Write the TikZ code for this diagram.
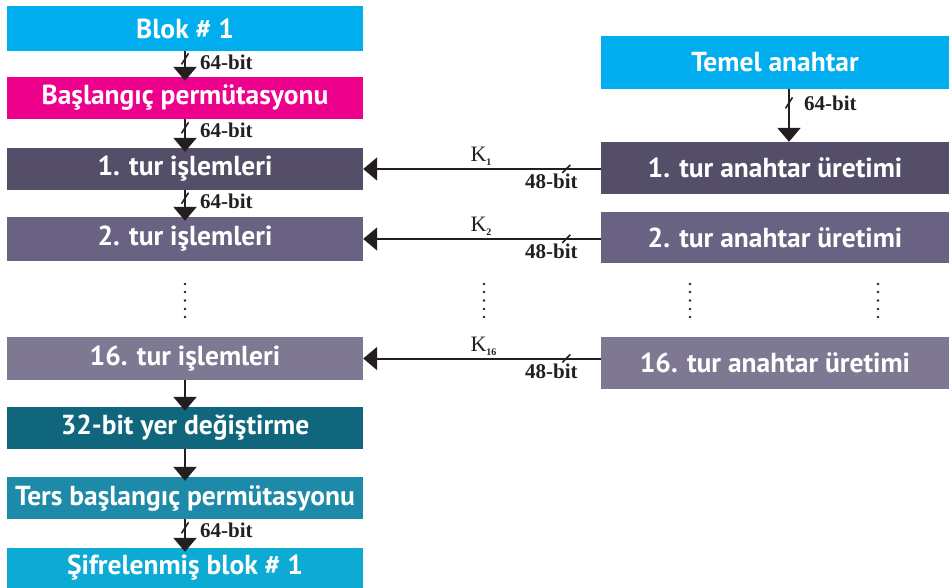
\documentclass[tikz,border=0pt]{standalone}
\usepackage{fontspec}
\setmainfont{Liberation Serif}
\newfontfamily\boxfont{PT Sans}
\usetikzlibrary{arrows.meta,calc}

\definecolor{cyanA}{HTML}{00AEEF}
\definecolor{magA}{HTML}{EC008C}
\definecolor{roundA}{HTML}{554E69}
\definecolor{roundB}{HTML}{6A6282}
\definecolor{roundC}{HTML}{7F7893}
\definecolor{tealA}{HTML}{0F667D}
\definecolor{tealB}{HTML}{1D8AAA}
\definecolor{cyanB}{HTML}{0DAAD4}
\definecolor{ink}{HTML}{231F20}

\tikzset{
  blk/.style={rectangle, inner sep=0pt, text=white,
    font=\boxfont\bfseries\fontsize{27.5}{30}\selectfont},
  lblk/.style={blk, minimum width=356pt},
  rblk/.style={blk, minimum width=348pt},
  tipA/.tip={Triangle[width=23pt,length=14pt]},
  varr/.style={draw=ink, line width=2.5pt, shorten >=-4pt, -tipA},
  harr/.style={draw=ink, line width=2pt, -tipA},
  tickmark/.style={draw=ink, line width=1.6pt},
  bits/.style={font=\bfseries\fontsize{21}{23}\selectfont, text=ink, inner sep=0pt},
  klbl/.style={font=\fontsize{22}{24}\selectfont, text=ink, inner sep=0pt},
  vdot/.style={circle, fill=ink, inner sep=0pt, minimum size=2.6pt},
}

\newcommand{\keylabel}[1]{K\raisebox{-0.4ex}{\fontsize{10}{10}\selectfont\bfseries #1}}

\begin{document}
\begin{tikzpicture}[x=1pt, y=-1pt]
  \useasboundingbox (0,0) rectangle (949,588);

  % encryption path
  \node[lblk, fill=cyanA,  minimum height=45pt] (b1)  at (185,28.5) {Blok \# 1};
  \node[lblk, fill=magA,   minimum height=42pt] (ip)  at (185,98)   {Başlangıç permütasyonu};
  \node[lblk, fill=roundA, minimum height=42pt] (r1)  at (185,169)  {1. tur işlemleri};
  \node[lblk, fill=roundB, minimum height=44pt] (r2)  at (185,239)  {2. tur işlemleri};
  \node[lblk, fill=roundC, minimum height=43pt] (r16) at (185,358.5){16. tur işlemleri};
  \node[lblk, fill=tealA,  minimum height=42pt] (sw)  at (185,428)  {32-bit yer değiştirme};
  \node[lblk, fill=tealB,  minimum height=42pt] (fp)  at (185,498)  {Ters başlangıç permütasyonu};
  \node[lblk, fill=cyanB,  minimum height=40pt] (out) at (185,568)  {Şifrelenmiş blok \# 1};

  % key schedule
  \node[rblk, fill=cyanA,  minimum height=53pt] (key) at (775,62.5) {Temel anahtar};
  \node[rblk, fill=roundA, minimum height=52pt] (k1)  at (775,168)  {1. tur anahtar üretimi};
  \node[rblk, fill=roundB, minimum height=51pt] (k2)  at (775,237.5){2. tur anahtar üretimi};
  \node[rblk, fill=roundC, minimum height=52pt] (k16) at (775,363)  {16. tur anahtar üretimi};

  % vertical data flow with 64-bit bus marks
  \foreach \a/\b/\t in {b1/ip/ta, ip/r1/tb, r1/r2/tc, fp/out/td}{
    \draw[varr] (\a.south) -- coordinate[pos=0.3] (\t) (\b.north);
    \draw[tickmark] (\t) ++(-3.5,5.5) -- ++(7,-11);
    \node[bits, anchor=west] at ([xshift=15pt,yshift=-3pt]\t) {64-bit};
  }
  \draw[varr] (r16.south) -- (sw.north);
  \draw[varr] (sw.south) -- (fp.north);

  \draw[varr, shorten >=0pt] ([xshift=14pt]key.south) -- coordinate[pos=0.26] (tk) ([xshift=14pt]k1.north);
  \draw[tickmark] (tk) ++(-3.5,5.5) -- ++(7,-11);
  \node[bits, anchor=west] at ([xshift=15pt]tk) {64-bit};

  % round keys, 48-bit each
  \foreach \k/\r/\n/\s in {k1/r1/1/kt1, k2/r2/2/kt2, k16/r16/16/kt16}{
    \draw[harr] (\k.west |- \r.east) -- coordinate[pos=0.145] (\s) (\r.east);
    \draw[tickmark] (\s) ++(-4,4) -- ++(8,-8);
    \node[bits, anchor=north] at ([xshift=-15pt,yshift=-5pt]\s) {48-bit};
    \node[klbl, anchor=south west] at ([xshift=-96pt,yshift=3pt]\s) {\keylabel{\n}};
  }

  % elided rounds
  \foreach \x in {185,484,690,878}{
    \foreach \y in {284,292,300.5,309,317}{
      \node[vdot] at (\x,\y) {};
    }
  }
\end{tikzpicture}
\end{document}
